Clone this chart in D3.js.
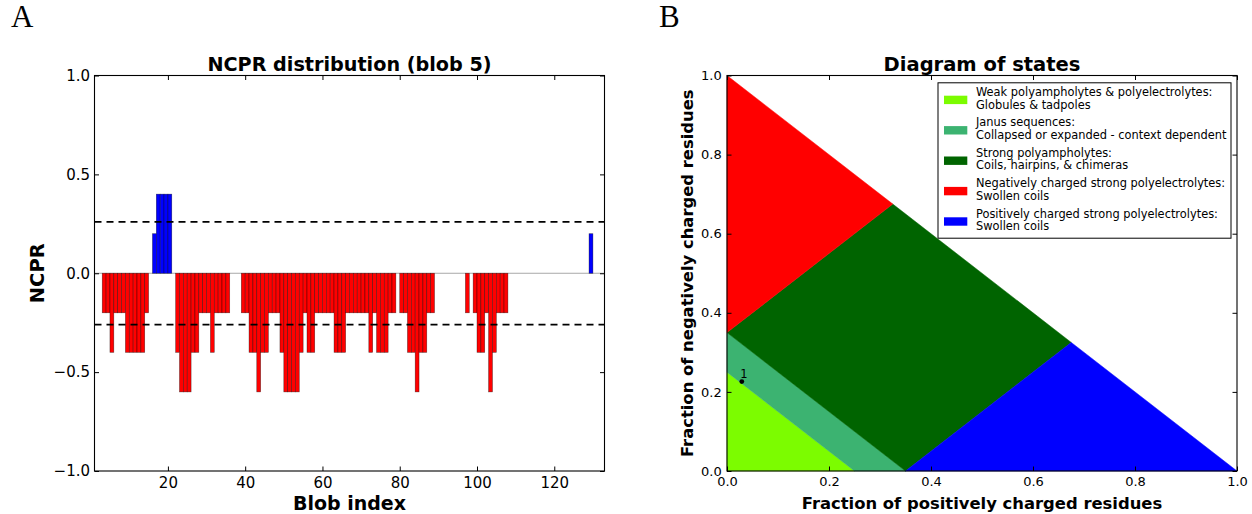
<!DOCTYPE html>
<html>
<head>
<meta charset="utf-8">
<script src="https://cdn.jsdelivr.net/npm/d3@7"></script>
<style>
  html, body { margin: 0; padding: 0; background: #fff; }
  svg { display: block; font-family: "DejaVu Sans", sans-serif; }
  .tick line { stroke: #000; }
  .tick text { fill: #000; }
</style>
</head>
<body>
<svg id="fig" width="1252" height="514"></svg>
<script>
// ---- Panel A: NCPR per blob (window of 5 residues) ----
const firstBlob = 3;
const ncprValues = [
  -0.2, -0.2, -0.4, -0.2, -0.2, -0.2, -0.4, -0.4, -0.4, -0.4, -0.4, -0.2,   // 3-14
   0.0,  0.2,  0.4,  0.4,  0.4,  0.4,  0.0,                                 // 15-21
  -0.4, -0.6, -0.6, -0.6, -0.4, -0.4, -0.2, -0.2, -0.2, -0.4, -0.2, -0.2, -0.2, -0.2, // 22-35
   0.0,  0.0,  0.0,                                                         // 36-38
  -0.2, -0.2, -0.4, -0.4, -0.6, -0.4, -0.4, -0.2, -0.2, -0.2,               // 39-48
  -0.4, -0.6, -0.6, -0.6, -0.6, -0.4, -0.2, -0.4, -0.4, -0.2,               // 49-58
  -0.2, -0.2, -0.2, -0.2, -0.4, -0.4, -0.4, -0.2, -0.2, -0.2,               // 59-68
  -0.2, -0.2, -0.2, -0.4, -0.2, -0.4, -0.4, -0.4, -0.2, -0.2,               // 69-78
   0.0,                                                                     // 79
  -0.2, -0.2, -0.4, -0.4, -0.6, -0.4, -0.4, -0.2, -0.2,                     // 80-88
   0.0,  0.0,  0.0,  0.0,  0.0,  0.0,  0.0,  0.0,                           // 89-96
  -0.2,  0.0, -0.2, -0.4, -0.4, -0.2, -0.6, -0.4, -0.2, -0.2, -0.2,         // 97-107
   0.0,  0.0,  0.0,  0.0,  0.0,  0.0,  0.0,  0.0,  0.0,  0.0,  0.0,         // 108-118
   0.0,  0.0,  0.0,  0.0,  0.0,  0.0,  0.0,  0.0,  0.0,  0.0,               // 119-128
   0.2,  0.0,  0.0                                                          // 129-131
];
const ncprThreshold = 0.26;
const blobXTicks = [20, 40, 60, 80, 100, 120];
const ncprYTicks = [-1.0, -0.5, 0.0, 0.5, 1.0];

// ---- Panel B: Das-Pappu diagram of states ----
const stateNames = [
  ["Weak polyampholytes & polyelectrolytes:", "Globules & tadpoles"],
  ["Janus sequences:", "Collapsed or expanded - context dependent"],
  ["Strong polyampholytes:", "Coils, hairpins, & chimeras"],
  ["Negatively charged strong polyelectrolytes:", "Swollen coils"],
  ["Positively charged strong polyelectrolytes:", "Swollen coils"]
];
const stateColors = ["#7CFC00", "#3CB371", "#006400", "#FF0000", "#0000FF"];
// region outlines in (fraction positive, fraction negative)
const weakRegion   = [[0, 0], [0.25, 0], [0, 0.25]];
const janusRegion  = [[0.25, 0], [0.35, 0], [0, 0.35], [0, 0.25]];
const strongRegion = [[0.35, 0], [0.675, 0.325], [0.325, 0.675], [0, 0.35]];
const negRegion    = [[0, 0.35], [0.325, 0.675], [0, 1]];
const posRegion    = [[0.35, 0], [1, 0], [0.675, 0.325]];
const stateRegions = [weakRegion, janusRegion, strongRegion, negRegion, posRegion];
const seqLabels = ["1"];
const seqFplus  = [0.029];
const seqFminus = [0.226];
const fracTicks = [0.0, 0.2, 0.4, 0.6, 0.8, 1.0];

const svg = d3.select("#fig");
const fmt1 = d3.format(".1f");
const TICK = 4.5;

function frameAxes(g, x, y, xTicks, yTicks, xFont, yFont, xPad, yPad, xFmt, yFmt) {
  const [x0, x1] = x.range();
  const [y0, y1] = y.range(); // y0 bottom, y1 top
  const bottom = g.append("g").attr("transform", `translate(0,${y0})`)
    .call(d3.axisBottom(x).tickValues(xTicks).tickSize(-TICK).tickPadding(xPad).tickFormat(xFmt));
  const top = g.append("g").attr("transform", `translate(0,${y1})`)
    .call(d3.axisTop(x).tickValues(xTicks).tickSize(-TICK).tickFormat(""));
  const left = g.append("g").attr("transform", `translate(${x0},0)`)
    .call(d3.axisLeft(y).tickValues(yTicks).tickSize(-TICK).tickPadding(yPad).tickFormat(yFmt));
  const right = g.append("g").attr("transform", `translate(${x1},0)`)
    .call(d3.axisRight(y).tickValues(yTicks).tickSize(-TICK).tickFormat(""));
  [bottom, top, left, right].forEach(a => { a.select(".domain").remove(); a.selectAll("line").attr("stroke-width", 1); });
  bottom.selectAll("text").attr("font-size", xFont).attr("font-family", "DejaVu Sans");
  left.selectAll("text").attr("font-size", yFont).attr("font-family", "DejaVu Sans");
  g.append("rect").attr("x", x0).attr("y", y1).attr("width", x1 - x0).attr("height", y0 - y1)
    .attr("fill", "none").attr("stroke", "#000").attr("stroke-width", 1.1);
}

// ================= Panel A =================
{
  const x = d3.scaleLinear().domain([1, 133]).range([94.5, 604.5]);
  const y = d3.scaleLinear().domain([-1, 1]).range([471, 75.5]);
  const g = svg.append("g");
  const bars = ncprValues.map((v, i) => ({ idx: firstBlob + i, v }));

  // zero line
  g.append("line").attr("x1", x.range()[0]).attr("x2", x.range()[1])
    .attr("y1", y(0)).attr("y2", y(0)).attr("stroke", "#a8a8a8").attr("stroke-width", 1);

  g.selectAll("rect.bar").data(bars.filter(d => d.v !== 0)).join("rect")
    .attr("class", "bar")
    .attr("x", d => x(d.idx))
    .attr("width", d => x(d.idx + 1) - x(d.idx))
    .attr("y", d => y(Math.max(0, d.v)))
    .attr("height", d => Math.abs(y(d.v) - y(0)))
    .attr("fill", d => d.v > 0 ? "#0000FF" : "#FF0000")
    .attr("stroke", "#000").attr("stroke-opacity", 0.55).attr("stroke-width", 0.6);

  [ncprThreshold, -ncprThreshold].forEach(t => {
    g.append("line").attr("x1", x.range()[0]).attr("x2", x.range()[1])
      .attr("y1", y(t)).attr("y2", y(t))
      .attr("stroke", "#000").attr("stroke-width", 1.6).attr("stroke-dasharray", "7,5");
  });

  frameAxes(g, x, y, blobXTicks, ncprYTicks, 15, 15, 6.5, 4.5, d3.format("d"), fmt1);

  g.append("text").attr("x", (x.range()[0] + x.range()[1]) / 2).attr("y", 70.5)
    .attr("text-anchor", "middle").attr("font-weight", "bold").attr("font-size", 19.2)
    .text("NCPR distribution (blob 5)");
  g.append("text").attr("x", (x.range()[0] + x.range()[1]) / 2).attr("y", 509.5)
    .attr("text-anchor", "middle").attr("font-weight", "bold").attr("font-size", 19)
    .text("Blob index");
  g.append("text").attr("transform", `translate(44,${(y.range()[0] + y.range()[1]) / 2}) rotate(-90)`)
    .attr("text-anchor", "middle").attr("font-weight", "bold").attr("font-size", 19.5)
    .text("NCPR");
  g.append("text").attr("x", 11).attr("y", 26.5).attr("font-family", "Liberation Serif, serif")
    .attr("font-size", 31).text("A");
}

// ================= Panel B =================
{
  const x = d3.scaleLinear().domain([0, 1]).range([727, 1237]);
  const y = d3.scaleLinear().domain([0, 1]).range([471, 75.5]);
  const g = svg.append("g");
  const line = d3.line().x(d => x(d[0])).y(d => y(d[1]));

  g.selectAll("path.region").data(stateRegions).join("path")
    .attr("class", "region")
    .attr("d", d => line(d) + "Z")
    .attr("fill", (d, i) => stateColors[i])
    .attr("stroke", (d, i) => stateColors[i]).attr("stroke-width", 0.5);

  seqLabels.forEach((lab, i) => {
    const px = x(seqFplus[i]), py = y(seqFminus[i]);
    g.append("circle").attr("cx", px).attr("cy", py).attr("r", 2.4).attr("fill", "#000");
    g.append("text").attr("x", px - 1.5).attr("y", py - 3.7).attr("font-size", 11.5).text(lab);
  });

  frameAxes(g, x, y, fracTicks, fracTicks, 13, 13, 6, 5.3, fmt1, fmt1);

  // legend
  const lg = g.append("g");
  lg.append("rect").attr("x", 938).attr("y", 82.8).attr("width", 293).attr("height", 155.4)
    .attr("fill", "#fff").attr("stroke", "#000").attr("stroke-width", 1);
  stateNames.forEach((lines, i) => {
    const base = 96 + i * 30.4;
    lg.append("rect").attr("x", 944).attr("y", base - 0.3).attr("width", 23.3).attr("height", 8.4)
      .attr("fill", stateColors[i]);
    lines.forEach((t, j) => {
      lg.append("text").attr("x", 976).attr("y", base + j * 12.6)
        .attr("font-size", 11.4).attr("fill", "#000").text(t);
    });
  });

  g.append("text").attr("x", (x.range()[0] + x.range()[1]) / 2).attr("y", 70.5)
    .attr("text-anchor", "middle").attr("font-weight", "bold").attr("font-size", 19.5)
    .text("Diagram of states");
  g.append("text").attr("x", (x.range()[0] + x.range()[1]) / 2).attr("y", 508.7)
    .attr("text-anchor", "middle").attr("font-weight", "bold").attr("font-size", 16.4)
    .text("Fraction of positively charged residues");
  g.append("text").attr("transform", `translate(692.7,${(y.range()[0] + y.range()[1]) / 2}) rotate(-90)`)
    .attr("text-anchor", "middle").attr("font-weight", "bold").attr("font-size", 16.4)
    .text("Fraction of negatively charged residues");
  g.append("text").attr("x", 659).attr("y", 26.5).attr("font-family", "Liberation Serif, serif")
    .attr("font-size", 31).text("B");
}
</script>
</body>
</html>
